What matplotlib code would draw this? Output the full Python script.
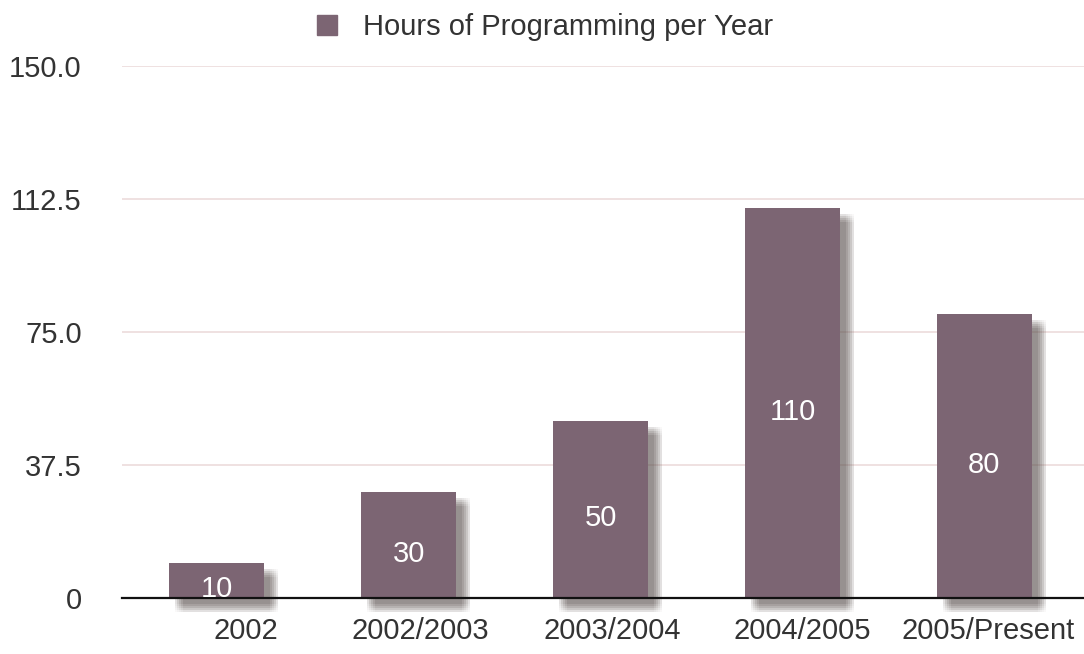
import matplotlib
import matplotlib.pyplot as plt
import matplotlib.patheffects as pe
from matplotlib.lines import Line2D

plt.switch_backend('Agg')
plt.rcParams["font.family"] = ["Liberation Sans", "DejaVu Sans"]

categories = ["2002", "2002/2003", "2003/2004", "2004/2005", "2005/Present"]
hours = [10, 30, 50, 110, 80]
yticks = [0, 37.5, 75.0, 112.5, 150.0]
ytick_labels = ["0", "37.5", "75.0", "112.5", "150.0"]
series_name = "Hours of Programming per Year"

bar_color = "#7c6573"
text_color = "#333333"
label_shift = [0.15, 0.06, 0.06, 0.05, 0.02]  # category labels sit a bit right

fig = plt.figure(figsize=(10.84, 6.54), dpi=100)
ax = fig.add_axes([0.1125, 0.0856, 0.8875, 0.8135])

# soft blurred drop shadow built from stacked offset copies
shadow = []
for dx in [6, 8, 10, 12, 14]:
    for dy in [-6, -8, -10, -12, -14]:
        shadow.append(pe.SimplePatchShadow(offset=(dx * 0.72, dy * 0.72),
                                           shadow_rgbFace="#5e5452", alpha=0.035))
shadow.append(pe.Normal())

x = list(range(len(categories)))
bars = ax.bar(x, hours, width=0.495, color=bar_color, zorder=3)
for b in bars:
    b.set_path_effects(shadow)
    b.set_clip_on(False)

for xi, v in zip(x, hours):
    ax.text(xi, v / 2 - 2.5, str(v), ha="center", va="center",
            color="white", fontsize=21, zorder=5)

ax.set_xlim(-0.495, 4.52)
ax.set_ylim(0, 150)
ax.set_yticks(yticks)
ax.set_yticklabels(ytick_labels)
ax.set_xticks([xi + s for xi, s in zip(x, label_shift)])
ax.set_xticklabels(categories)
ax.tick_params(axis="y", length=0, pad=29, labelsize=21, labelcolor=text_color)
ax.tick_params(axis="x", length=0, pad=14, labelsize=21, labelcolor=text_color)

ax.grid(axis="y", color="#ecdcdc", linewidth=1.2, zorder=0)
ax.set_axisbelow(True)
for s in ["top", "right", "left"]:
    ax.spines[s].set_visible(False)
ax.spines["bottom"].set_color("#111111")
ax.spines["bottom"].set_linewidth(1.6)
ax.spines["bottom"].set_zorder(4)

handle = Line2D([], [], marker="s", linestyle="none", markersize=15,
                markerfacecolor=bar_color, markeredgecolor=bar_color)
fig.legend([handle], [series_name], loc="center", bbox_to_anchor=(0.494, 0.958),
           frameon=False, fontsize=21, handletextpad=0.25, labelcolor=text_color)

plt.savefig("out.png", dpi=100)
